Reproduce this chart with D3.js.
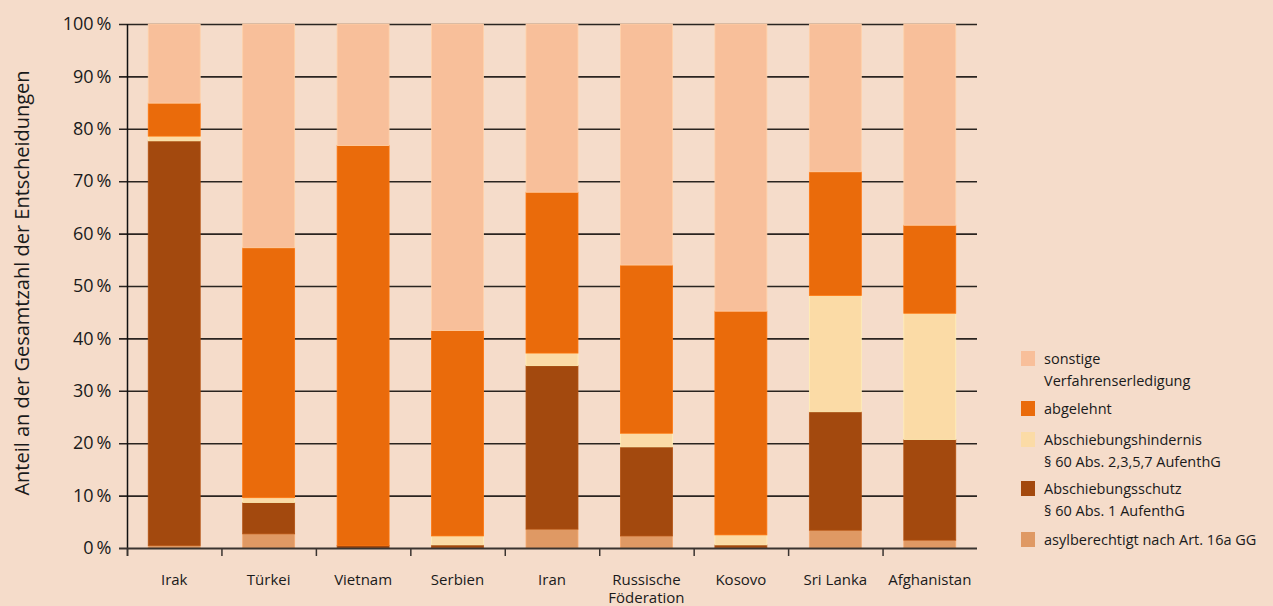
<!DOCTYPE html>
<html><head><meta charset="utf-8">
<script src="https://cdn.jsdelivr.net/npm/d3@7"></script>
<style>
html,body{margin:0;padding:0;background:#f5dcca;}
svg{display:block;font-family:"Open Sans",sans-serif;}
</style></head>
<body><svg id="c" width="1273" height="606"></svg>
<script>
const categories = ["Irak","Türkei","Vietnam","Serbien","Iran","Russische Föderation","Kosovo","Sri Lanka","Afghanistan"];
const seriesNames = ["asylberechtigt nach Art. 16a GG","Abschiebungsschutz § 60 Abs. 1 AufenthG","Abschiebungshindernis § 60 Abs. 2,3,5,7 AufenthG","abgelehnt","sonstige Verfahrenserledigung"];
const asyl       = [0.5, 2.7, 0.0, 0.1, 3.6, 2.3, 0.1, 3.4, 1.5];
const schutz     = [77.2, 6.0, 0.5, 0.5, 31.2, 17.0, 0.5, 22.6, 19.2];
const hindernis  = [0.9, 0.9, 0.0, 1.7, 2.4, 2.6, 1.9, 22.2, 24.1];
const abgelehnt  = [6.3, 47.7, 76.3, 39.2, 30.7, 32.1, 42.7, 23.6, 16.8];
const sonstige   = [15.1, 42.7, 23.2, 58.5, 32.1, 46.0, 54.8, 28.2, 38.4];
const yTicks = [0,10,20,30,40,50,60,70,80,90,100];
const colors = ["#df9964","#a3490e","#fbdba6","#ea6b0b","#f8bf9a"];
const legendLines = [
  ["sonstige","Verfahrenserledigung"],
  ["abgelehnt"],
  ["Abschiebungshindernis","§ 60 Abs. 2,3,5,7 AufenthG"],
  ["Abschiebungsschutz","§ 60 Abs. 1 AufenthG"],
  ["asylberechtigt nach Art. 16a GG"]
];

(function(){
const svg = d3.select("#c");
const mL = 127, mR = 977, mT = 24, mB = 548;
const x = d3.scaleBand().domain(categories).range([mL, mR]).paddingInner(0.45).paddingOuter(0.225);
const y = d3.scaleLinear().domain([0,100]).range([mB, mT]);

const rows = categories.map((c,i)=>({cat:c, s0:asyl[i], s1:schutz[i], s2:hindernis[i], s3:abgelehnt[i], s4:sonstige[i]}));
const stacked = d3.stack().keys(["s0","s1","s2","s3","s4"])(rows);

// gridlines
svg.append("g").selectAll("line").data(yTicks.filter(t=>t>0)).join("line")
  .attr("x1", mL-8).attr("x2", mR).attr("y1", d=>y(d)+0.5).attr("y2", d=>y(d)+0.5)
  .attr("stroke","#2a2420").attr("stroke-width",1.6);

// bars
svg.append("g").selectAll("g").data(stacked).join("g")
  .attr("fill",(d,i)=>colors[i])
  .attr("stroke",(d,i)=>d3.color(colors[i]).brighter(0.25))
  .attr("stroke-width",0.8)
  .selectAll("rect").data(d=>d.filter(p=>p[1]-p[0]>0)).join("rect")
  .attr("x", d=>x(d.data.cat)).attr("width", x.bandwidth())
  .attr("y", d=>y(d[1])).attr("height", d=>y(d[0])-y(d[1]));

// y axis
const yAxis = d3.axisLeft(y).tickValues(yTicks).tickSize(0).tickPadding(16).tickFormat(d=>d+"\u2009%");
const gy = svg.append("g").attr("transform",`translate(${mL+0.5},0)`).call(yAxis);
gy.select(".domain").remove();
gy.selectAll("text").attr("font-size",18).attr("fill","#1a1a1a").attr("font-family","Open Sans, sans-serif");
svg.append("line").attr("x1",mL+0.5).attr("x2",mL+0.5).attr("y1",mT).attr("y2",mB+8).attr("stroke","#111").attr("stroke-width",1.5);
svg.append("line").attr("x1",mL-8).attr("x2",mR).attr("y1",mB+0.5).attr("y2",mB+0.5).attr("stroke","#3a3430").attr("stroke-width",2);

// x axis ticks between categories
svg.append("g").selectAll("line").data(categories.map((c,i)=>mL + i*x.step())).join("line")
  .attr("x1",d=>d+0.5).attr("x2",d=>d+0.5).attr("y1",mB).attr("y2",mB+8)
  .attr("stroke","#3a3430").attr("stroke-width",1.5);

// x labels
const xl = svg.append("g").selectAll("text").data(categories).join("text")
  .attr("x", d=>x(d)+x.bandwidth()/2).attr("y", 585)
  .attr("text-anchor","middle").attr("font-size",15).attr("fill","#1a1a1a");
xl.each(function(d){
  const parts = d==="Russische Föderation" ? ["Russische","Föderation"] : [d];
  const t = d3.select(this);
  parts.forEach((p,i)=>t.append("tspan").attr("x", x(d)+x.bandwidth()/2).attr("dy", i===0?0:18).text(p));
});

// y title
svg.append("text").attr("transform","translate(29,283) rotate(-90)")
  .attr("text-anchor","middle").attr("font-size",20).attr("fill","#1a1a1a")
  .text("Anteil an der Gesamtzahl der Entscheidungen");

// legend
const legColors = [colors[4],colors[3],colors[2],colors[1],colors[0]];
const swY = [351,401,432,481,532];
const lg = svg.append("g");
legendLines.forEach((lines,i)=>{
  lg.append("rect").attr("x",1021).attr("y",swY[i]).attr("width",14).attr("height",15).attr("fill",legColors[i]);
  const t = lg.append("text").attr("x",1044).attr("y",swY[i]+13).attr("font-size",14.5).attr("fill","#1a1a1a");
  lines.forEach((l,j)=>t.append("tspan").attr("x",1044).attr("dy", j===0?0:22).text(l));
});
})();
</script></body></html>
